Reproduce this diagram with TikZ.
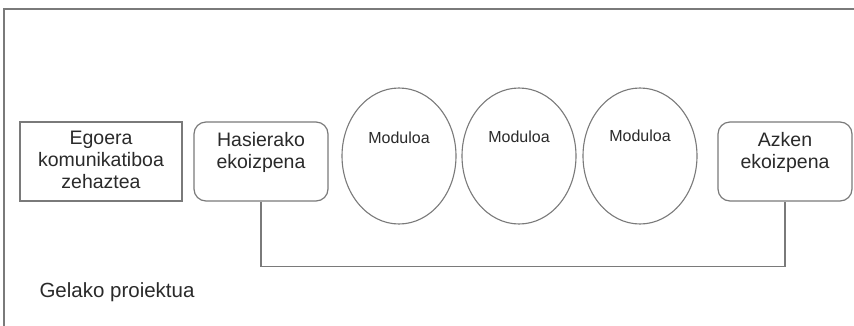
\documentclass[tikz,border=0pt]{standalone}
\usepackage{fontspec}
\setmainfont{Liberation Sans}
\usetikzlibrary{shapes.geometric}
\definecolor{linegray}{HTML}{7A7A7A}
\definecolor{txtgray}{HTML}{2A2A2A}
\begin{document}
\begin{tikzpicture}[x=1pt,y=-1pt,
  boxtext/.style={font=\fontsize{19.5}{22}\selectfont, text=txtgray, align=center},
  sqbox/.style={draw=linegray, line width=1.2pt},
  rbox/.style={draw=linegray, line width=1.2pt, rounded corners=12pt},
  modell/.style={draw=linegray, line width=1.1pt, ellipse, minimum width=114pt, minimum height=136pt, inner sep=0pt},
  modtext/.style={font=\fontsize{16}{18}\selectfont, text=txtgray},
  conn/.style={draw=linegray, line width=1.2pt}]
\useasboundingbox (0,0) rectangle (854,325);
\fill[white] (0,0) rectangle (854,325);
% frame
\coordinate (fbl) at (4,326);
\coordinate (ftl) at (4,9);
\coordinate (ftr) at (855,9);
\draw[draw=linegray, line width=1.3pt] (fbl) -- (ftl) -- (ftr);
% boxes
\draw[sqbox] (20,122) rectangle (182,201);
\node[boxtext] (egoera) at (101,160) {Egoera\\komunikatiboa\\zehaztea};
\node[rbox, minimum width=134pt, minimum height=79pt] (hasi) at (261,161.5) {};
\node[boxtext] (hasit) at (261,152.5) {Hasierako\\ekoizpena};
\node[rbox, minimum width=134pt, minimum height=79pt] (azken) at (785,161.5) {};
\node[boxtext] (azkent) at (785,152.5) {Azken\\ekoizpena};
% ellipses
\node[modell] (m1) at (399,156) {};
\node[modell] (m2) at (519,156) {};
\node[modell] (m3) at (640,156) {};
\node[modtext] (m1t) at (399,138) {Moduloa};
\node[modtext] (m2t) at (519,137) {Moduloa};
\node[modtext] (m3t) at (640,136) {Moduloa};
% connector
\draw[conn] (hasi.south) -- ++(0,65) -| (azken.south);
% label
\node[font=\fontsize{20.5}{23}\selectfont, text=txtgray, anchor=west] (gelako) at (36,292) {Gelako proiektua};
\end{tikzpicture}
\end{document}
